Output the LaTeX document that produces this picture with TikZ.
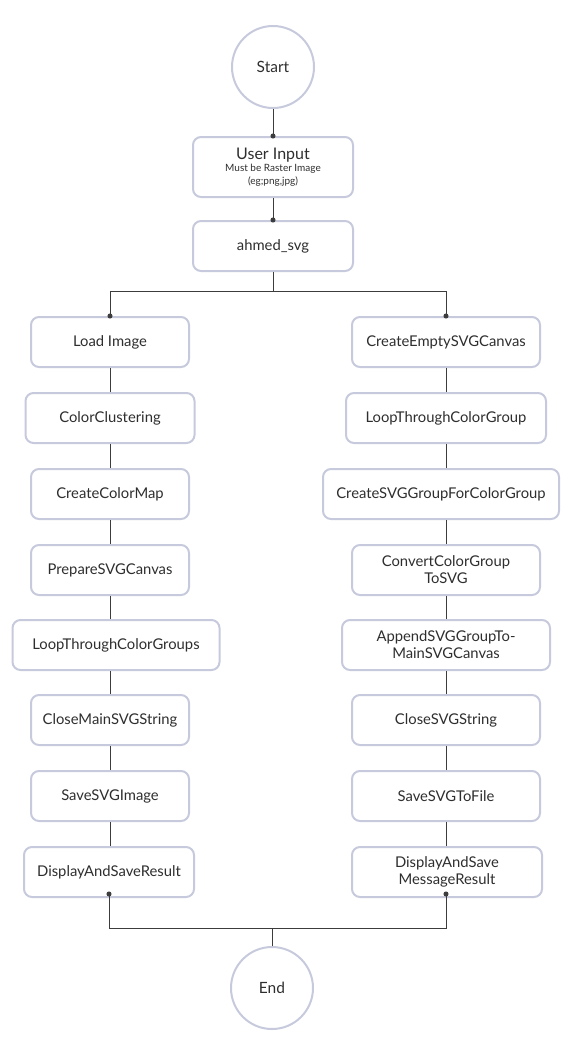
\documentclass[tikz,border=0pt]{standalone}
\usepackage{fontspec}
\setmainfont{Lato}
\usetikzlibrary{arrows.meta}
\definecolor{boxline}{HTML}{C7CADC}
\definecolor{wire}{HTML}{3C3C3C}
\definecolor{ink}{HTML}{2E2E2E}
\begin{document}
\begin{tikzpicture}[x=1pt,y=-1pt]
                \tikzset{terminal/.style = {shape=circle,draw=boxline,line width=2pt,minimum size=82pt,inner sep=0pt,text=ink,font=\fontsize{15.5}{17}\selectfont}}
                \tikzset{box/.style = {shape=rectangle,rounded corners=8pt,draw=boxline,line width=2pt,minimum height=50pt,minimum width=158pt,inner sep=2pt,align=center,text=ink,font=\fontsize{14.8}{18}\selectfont}}
                \tikzset{edge/.style = {draw=wire,line width=1pt}}
                \tikzset{dotedge/.style = {edge,-{Circle[length=5pt]},shorten >=-2.5pt}}
                \useasboundingbox (0,0) rectangle (571,1052);

                \node[terminal] (start) at (273, 67) {Start};
                \node[box, minimum width=160pt, minimum height=60pt, font=\fontsize{10}{13}\selectfont] (input) at (273, 167) {{\fontsize{16}{17}\selectfont User Input}\\[-1pt]Must be Raster Image\\[0pt](eg;png,jpg)};
                \node[box, minimum width=160pt] (svg) at (273, 246) {ahmed\_svg};
                \coordinate (fork) at (0, 291);

                \node[box] (load) at (110, 342) {Load Image};
                \node[box, minimum width=169pt] (cluster) at (110, 418) {ColorClustering};
                \node[box] (colormap) at (110, 494) {CreateColorMap};
                \node[box] (prepare) at (110, 570) {PrepareSVGCanvas};
                \node[box, minimum width=207pt] (loopgroups) at (116, 645) {LoopThroughColorGroups};
                \node[box] (closemain) at (110, 720) {CloseMainSVGString};
                \node[box] (saveimage) at (110, 796) {SaveSVGImage};
                \node[box, minimum width=170pt] (result) at (109, 872) {DisplayAndSaveResult};

                \node[box, minimum width=188pt] (canvas) at (446, 342) {CreateEmptySVGCanvas};
                \node[box, minimum width=200pt] (loopgroup) at (446, 418) {LoopThroughColorGroup};
                \node[box, minimum width=236pt] (svggroup) at (441, 494) {CreateSVGGroupForColorGroup};
                \node[box, minimum width=188pt] (convert) at (446, 570) {ConvertColorGroup\\[-1pt]ToSVG};
                \node[box, minimum width=208pt] (append) at (446, 645) {AppendSVGGroupTo-\\[-1pt]MainSVGCanvas};
                \node[box, minimum width=188pt] (closesvg) at (446, 720) {CloseSVGString};
                \node[box, minimum width=188pt] (savefile) at (446, 796) {SaveSVGToFile};
                \node[box, minimum width=190pt] (message) at (447, 872) {DisplayAndSave\\[-1pt]MessageResult};

                \coordinate (join) at (0, 928);
                \node[terminal] (end) at (272, 988) {End};

                \draw[dotedge] (start) to (input);
                \draw[dotedge] (input) to (svg);

                \draw[dotedge] (svg.south) -- (svg.south |- fork) -| (load.north);
                \draw[dotedge] (svg.south) -- (svg.south |- fork) -| (canvas.north);

                \draw[edge] (load) to (cluster);
                \draw[edge] (cluster) to (colormap);
                \draw[edge] (colormap) to (prepare);
                \draw[edge] (prepare.south) to (prepare.south |- loopgroups.north);
                \draw[edge] (loopgroups.south -| prepare) to (closemain);
                \draw[edge] (closemain) to (saveimage);
                \draw[edge] (saveimage.south) to (saveimage.south |- result.north);

                \draw[edge] (canvas) to (loopgroup);
                \draw[edge] (loopgroup.south) to (loopgroup.south |- svggroup.north);
                \draw[edge] (svggroup.south -| convert) to (convert);
                \draw[edge] (convert) to (append);
                \draw[edge] (append) to (closesvg);
                \draw[edge] (closesvg) to (savefile);
                \draw[edge] (savefile.south) to (savefile.south |- message.north);

                \draw[dotedge, shorten >=-6.5pt] (end.north) -- (end.north |- join) -| (result.south);
                \draw[dotedge, shorten >=-6.5pt] (end.north) -- (end.north |- join) -| (savefile.south |- message.south);
            \end{tikzpicture}
\end{document}
